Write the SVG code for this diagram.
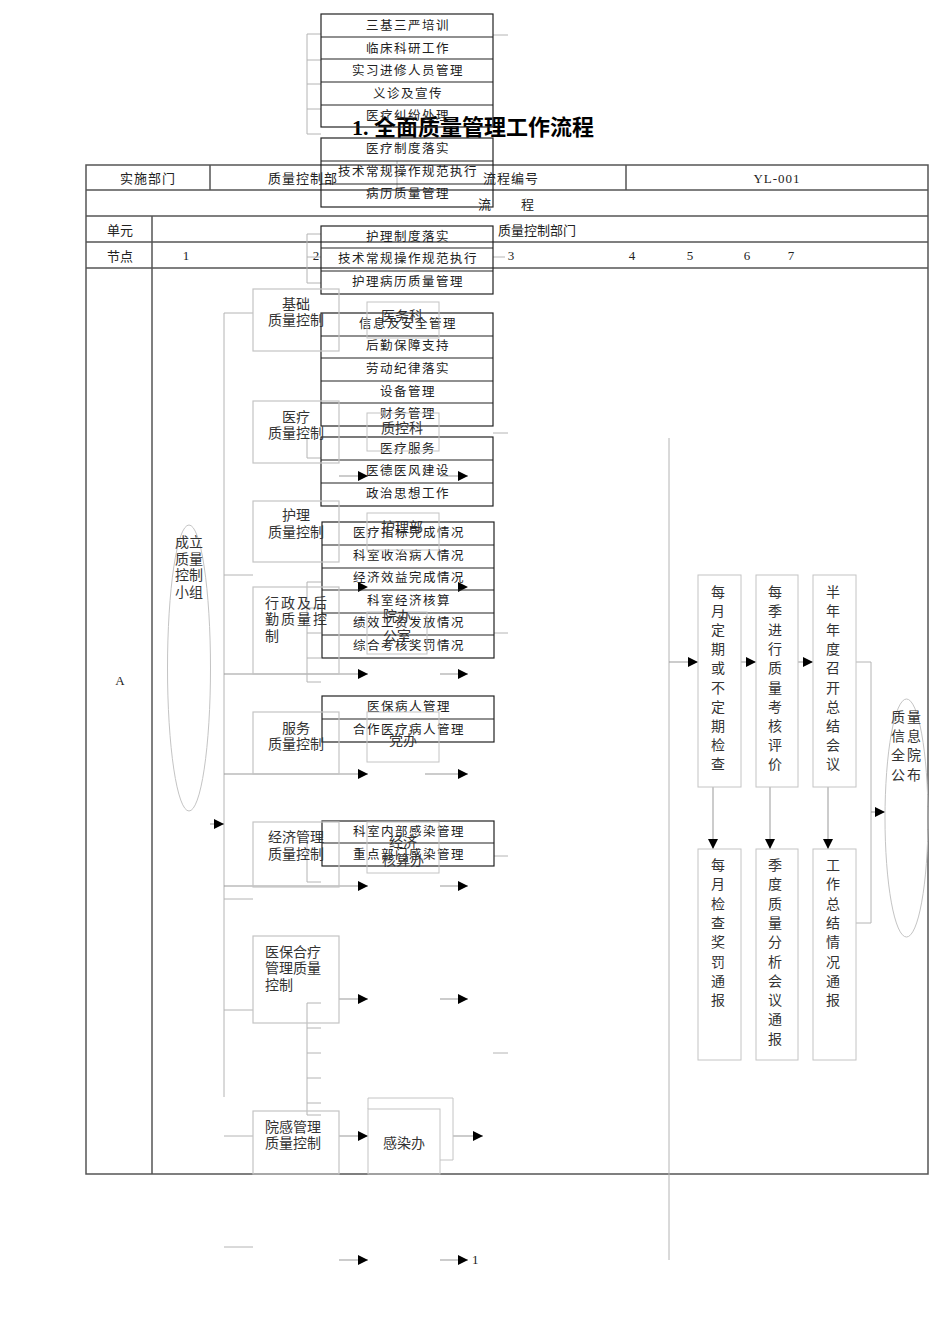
<svg xmlns="http://www.w3.org/2000/svg" width="950" height="1344" viewBox="0 0 950 1344">
<defs>
<style>
.tb{stroke:#555;stroke-width:1.5;fill:none}
.gb{stroke:#222;stroke-width:1.2;fill:none}
.cb{stroke:#c4c4c4;stroke-width:1.2;fill:none}
.db{stroke:#c4c4c4;stroke-width:1;fill:none}
.ln{stroke:#b4b4b4;stroke-width:1;fill:none}
.ar{stroke:#999;stroke-width:1;fill:none;marker-end:url(#ah)}
.t{font-family:"Noto Sans CJK SC","Noto Sans CJK JP",sans-serif;font-size:13px;fill:#222}
.g{font-family:"Noto Sans CJK SC","Noto Sans CJK JP",sans-serif;font-size:12.5px;letter-spacing:1.5px;fill:#222;text-anchor:middle}
.c{font-family:"Noto Sans CJK SC","Noto Sans CJK JP",sans-serif;font-size:14px;fill:#333}
.v{font-family:"Noto Sans CJK SC","Noto Sans CJK JP",sans-serif;font-size:14px;fill:#333;text-anchor:middle}
.n{font-family:"Liberation Serif",serif;font-size:13px;fill:#222}
.m{text-anchor:middle}
</style>
<marker id="ah" viewBox="0 0 10 10" refX="10" refY="5" markerWidth="10" markerHeight="10" markerUnits="userSpaceOnUse" orient="auto"><path d="M0,0 L10,5 L0,10 z" fill="#000"/></marker>
</defs>
<rect width="950" height="1344" fill="#fff"/>

<g id="table">
<rect class="tb" x="86" y="165" width="842" height="1009"/>
<line class="tb" x1="86" y1="190" x2="928" y2="190"/>
<line class="tb" x1="86" y1="216" x2="928" y2="216"/>
<line class="tb" x1="86" y1="242" x2="928" y2="242"/>
<line class="tb" x1="86" y1="268" x2="928" y2="268"/>
<line class="tb" x1="210" y1="165" x2="210" y2="190"/>
<line class="tb" x1="626" y1="165" x2="626" y2="190"/>
<line class="tb" x1="152" y1="216" x2="152" y2="1174"/>
<text class="t m" x="148" y="183" letter-spacing="1">实施部门</text>
<text class="t m" x="303" y="183" letter-spacing="1">质量控制部</text>
<text class="t m" x="511" y="183" letter-spacing="1">流程编号</text>
<text class="n m" x="777" y="183" letter-spacing="1">YL-001</text>
<text class="t" x="478" y="209">流</text>
<text class="t" x="521" y="209">程</text>
<text class="t m" x="120" y="235">单元</text>
<text class="t" x="498" y="235">质量控制部门</text>
<text class="t m" x="120" y="261">节点</text>
<text class="n m" x="186" y="260">1</text>
<text class="n m" x="316" y="260">2</text>
<text class="n m" x="511" y="260">3</text>
<text class="n m" x="632" y="260">4</text>
<text class="n m" x="690" y="260">5</text>
<text class="n m" x="747" y="260">6</text>
<text class="n m" x="791" y="260">7</text>
<text class="n m" x="120" y="685">A</text>
</g>

<g id="connectors">
<line class="ln" x1="224" y1="313" x2="224" y2="1097"/>
<line class="ln" x1="224" y1="313" x2="253" y2="313"/>
<line class="ln" x1="224" y1="575" x2="253" y2="575"/>
<line class="ln" x1="224" y1="899" x2="253" y2="899"/>
<line class="ln" x1="224" y1="1010" x2="253" y2="1010"/>
<line class="ln" x1="224" y1="1136" x2="253" y2="1136"/>
<line class="ln" x1="224" y1="1247" x2="253" y2="1247"/>
<line class="ar" x1="210" y1="824" x2="224" y2="824"/>
<path class="ln" d="M321,34 H307 V134 H321 M307,60 H321 M307,84 H321 M307,109 H321"/>
<line class="ln" x1="493" y1="35" x2="508" y2="35"/>
<line class="ln" x1="397" y1="161" x2="397" y2="190"/>
<path class="ln" d="M321,234 H307 V283 H321 M307,257 H321"/>
<line class="ln" x1="493" y1="257" x2="505" y2="257"/>
<path class="ln" d="M307,437 V458 H321"/>
<line class="ln" x1="493" y1="433" x2="508" y2="433"/>
<path class="ln" d="M321,582 H307 V682 H321 M307,608 H321 M307,633 H321 M307,658 H321"/>
<line class="ln" x1="494" y1="633" x2="508" y2="633"/>
<path class="ln" d="M307,843 V882 H321"/>
<line class="ln" x1="494" y1="856" x2="508" y2="856"/>
<path class="ln" d="M321,1003 H307 V1115 H321 M307,1028 H321 M307,1053 H321 M307,1078 H321 M307,1103 H321"/>
<line class="ln" x1="493" y1="1053" x2="508" y2="1053"/>
<line class="ar" x1="339" y1="476" x2="368" y2="476"/>
<line class="ar" x1="440" y1="476" x2="468" y2="476"/>
<path d="M358,582 L368,587 L358,592 z M458,582 L468,587 L458,592 z" fill="#000"/>
<line class="ar" x1="224" y1="674" x2="368" y2="674"/>
<line class="ar" x1="440" y1="674" x2="468" y2="674"/>
<line class="ar" x1="224" y1="774" x2="368" y2="774"/>
<line class="ar" x1="425" y1="774" x2="468" y2="774"/>
<line class="ar" x1="224" y1="886" x2="368" y2="886"/>
<line class="ar" x1="440" y1="886" x2="468" y2="886"/>
<line class="ar" x1="339" y1="999" x2="368" y2="999"/>
<line class="ar" x1="440" y1="999" x2="468" y2="999"/>
<line class="ar" x1="339" y1="1136" x2="368" y2="1136"/>
<line class="ar" x1="453" y1="1136" x2="483" y2="1136"/>
<line class="ar" x1="339" y1="1260" x2="368" y2="1260"/>
<line class="ar" x1="440" y1="1260" x2="468" y2="1260"/>
<line class="ln" x1="669" y1="438" x2="669" y2="1260"/>
<line class="ar" x1="669" y1="662" x2="698" y2="662"/>
<line class="ar" x1="741" y1="662" x2="756" y2="662"/>
<line class="ar" x1="798" y1="662" x2="813" y2="662"/>
<path class="ln" d="M856,662 H871 V923 H856"/>
<line class="ar" x1="871" y1="812" x2="885" y2="812"/>
<line class="ar" x1="713" y1="787" x2="713" y2="849"/>
<line class="ar" x1="770" y1="787" x2="770" y2="849"/>
<line class="ar" x1="828" y1="787" x2="828" y2="849"/>
</g>

<g id="title"><text x="352" y="135" font-family="'Liberation Serif','Noto Sans CJK SC',serif" font-size="22" font-weight="bold" fill="#000">1. 全面质量管理工作流程</text></g>

<g id="group1">
<rect class="gb" x="321" y="14" width="172" height="113"/>
<path class="gb" d="M321,37 H493 M321,59 H493 M321,82 H493 M321,105 H493"/>
<text class="g" x="408" y="30">三基三严培训</text>
<text class="g" x="408" y="53">临床科研工作</text>
<text class="g" x="408" y="75">实习进修人员管理</text>
<text class="g" x="408" y="98">义诊及宣传</text>
<text class="g" x="408" y="120">医疗纠纷处理</text>
</g>
<g id="group2">
<rect class="gb" x="321" y="138" width="172" height="69"/>
<path class="gb" d="M321,161 H493 M321,184 H493"/>
<text class="g" x="408" y="153">医疗制度落实</text>
<text class="g" x="408" y="176">技术常规操作规范执行</text>
<text class="g" x="408" y="198">病历质量管理</text>
</g>
<g id="group3">
<rect class="gb" x="321" y="226" width="172" height="68"/>
<path class="gb" d="M321,248 H493 M321,271 H493"/>
<text class="g" x="408" y="241">护理制度落实</text>
<text class="g" x="408" y="263">技术常规操作规范执行</text>
<text class="g" x="408" y="286">护理病历质量管理</text>
</g>
<g id="group4">
<rect class="gb" x="321" y="313" width="172" height="113"/>
<path class="gb" d="M321,336 H493 M321,358 H493 M321,381 H493 M321,403 H493"/>
<text class="g" x="408" y="328">信息及安全管理</text>
<text class="g" x="408" y="350">后勤保障支持</text>
<text class="g" x="408" y="373">劳动纪律落实</text>
<text class="g" x="408" y="396">设备管理</text>
<text class="g" x="408" y="418">财务管理</text>
</g>
<g id="group5">
<rect class="gb" x="321" y="437" width="172" height="69"/>
<path class="gb" d="M321,460 H493 M321,483 H493"/>
<text class="g" x="408" y="453">医疗服务</text>
<text class="g" x="408" y="475">医德医风建设</text>
<text class="g" x="408" y="498">政治思想工作</text>
</g>
<g id="group6">
<rect class="gb" x="322" y="522" width="172" height="136"/>
<path class="gb" d="M322,545 H494 M322,568 H494 M322,590 H494 M322,613 H494 M322,635 H494"/>
<text class="g" x="409" y="537">医疗指标完成情况</text>
<text class="g" x="409" y="560">科室收治病人情况</text>
<text class="g" x="409" y="582">经济效益完成情况</text>
<text class="g" x="409" y="605">科室经济核算</text>
<text class="g" x="409" y="627">绩效工资发放情况</text>
<text class="g" x="409" y="650">综合考核奖罚情况</text>
</g>
<g id="group7">
<rect class="gb" x="322" y="696" width="172" height="46"/>
<path class="gb" d="M322,719 H494"/>
<text class="g" x="409" y="711">医保病人管理</text>
<text class="g" x="409" y="734">合作医疗病人管理</text>
</g>
<g id="group8">
<rect class="gb" x="322" y="821" width="172" height="45"/>
<path class="gb" d="M322,843 H494"/>
<text class="g" x="409" y="836">科室内部感染管理</text>
<text class="g" x="409" y="859">重点部门感染管理</text>
</g>

<g id="ctrl-basic"><rect class="cb" x="253" y="289" width="86" height="62"/><text class="c m" x="296" y="309">基础</text><text class="c m" x="296" y="325">质量控制</text></g>
<g id="ctrl-medical"><rect class="cb" x="253" y="401" width="86" height="62"/><text class="c m" x="296" y="422">医疗</text><text class="c m" x="296" y="438">质量控制</text></g>
<g id="ctrl-nursing"><rect class="cb" x="253" y="501" width="86" height="61"/><text class="c m" x="296" y="520">护理</text><text class="c m" x="296" y="537">质量控制</text></g>
<g id="ctrl-admin"><rect class="cb" x="253" y="587" width="86" height="87"/><text class="c" x="265" y="608" letter-spacing="2">行政及后</text><text class="c" x="265" y="624" letter-spacing="2">勤质量控</text><text class="c" x="265" y="641">制</text></g>
<g id="ctrl-service"><rect class="cb" x="253" y="712" width="86" height="62"/><text class="c m" x="296" y="733">服务</text><text class="c m" x="296" y="749">质量控制</text></g>
<g id="ctrl-economy"><rect class="cb" x="253" y="822" width="86" height="65"/><text class="c m" x="296" y="842">经济管理</text><text class="c m" x="296" y="859">质量控制</text></g>
<g id="ctrl-insurance"><rect class="cb" x="253" y="936" width="86" height="87"/><text class="c" x="265" y="957">医保合疗</text><text class="c" x="265" y="973">管理质量</text><text class="c" x="265" y="990">控制</text></g>
<g id="ctrl-infection"><rect class="cb" x="253" y="1111" width="86" height="63"/><text class="c" x="265" y="1132">院感管理</text><text class="c" x="265" y="1148">质量控制</text></g>

<g id="dept-yiwu"><rect class="db" x="367" y="302" width="72" height="36"/><text class="c m" x="402" y="321">医务科</text></g>
<g id="dept-zhikong"><rect class="db" x="367" y="413" width="72" height="38"/><text class="c m" x="402" y="433">质控科</text></g>
<g id="dept-huli"><rect class="db" x="367" y="513" width="72" height="37"/><text class="c m" x="402" y="532">护理部</text></g>
<g id="dept-yuanban"><rect class="db" x="367" y="612" width="60" height="42"/><text class="c m" x="397" y="621">院办</text><text class="c m" x="397" y="641">公室</text></g>
<g id="dept-dangban"><rect class="db" x="367" y="712" width="72" height="50"/><text class="c m" x="403" y="745">党办</text></g>
<g id="dept-jingji"><rect class="db" x="367" y="822" width="72" height="51"/><text class="c m" x="403" y="847">经济</text><text class="c m" x="403" y="865">核算办</text></g>
<g id="dept-ganran"><rect class="db" x="368" y="1109" width="72" height="65"/><path class="db" d="M368,1109 V1098 H453 V1160 H440"/><text class="c m" x="404" y="1148">感染办</text></g>

<g id="group-ellipse"><ellipse cx="189" cy="668" rx="21.5" ry="143" class="db"/>
<text class="c m" x="189" y="547">成立</text><text class="c m" x="189" y="564">质量</text><text class="c m" x="189" y="580">控制</text><text class="c m" x="189" y="597">小组</text></g>

<g id="box-monthly"><rect class="db" x="698" y="575" width="43" height="212"/>
<text class="v"><tspan x="718" y="597">每</tspan><tspan x="718" dy="19.1">月</tspan><tspan x="718" dy="19.1">定</tspan><tspan x="718" dy="19.1">期</tspan><tspan x="718" dy="19.1">或</tspan><tspan x="718" dy="19.1">不</tspan><tspan x="718" dy="19.1">定</tspan><tspan x="718" dy="19.1">期</tspan><tspan x="718" dy="19.1">检</tspan><tspan x="718" dy="19.1">查</tspan></text></g>
<g id="box-quarterly"><rect class="db" x="756" y="575" width="42" height="212"/>
<text class="v"><tspan x="775" y="597">每</tspan><tspan x="775" dy="19.1">季</tspan><tspan x="775" dy="19.1">进</tspan><tspan x="775" dy="19.1">行</tspan><tspan x="775" dy="19.1">质</tspan><tspan x="775" dy="19.1">量</tspan><tspan x="775" dy="19.1">考</tspan><tspan x="775" dy="19.1">核</tspan><tspan x="775" dy="19.1">评</tspan><tspan x="775" dy="19.1">价</tspan></text></g>
<g id="box-annual"><rect class="db" x="813" y="575" width="43" height="212"/>
<text class="v"><tspan x="833" y="597">半</tspan><tspan x="833" dy="19.1">年</tspan><tspan x="833" dy="19.1">年</tspan><tspan x="833" dy="19.1">度</tspan><tspan x="833" dy="19.1">召</tspan><tspan x="833" dy="19.1">开</tspan><tspan x="833" dy="19.1">总</tspan><tspan x="833" dy="19.1">结</tspan><tspan x="833" dy="19.1">会</tspan><tspan x="833" dy="19.1">议</tspan></text></g>
<g id="box-monthly-report"><rect class="db" x="698" y="849" width="43" height="211"/>
<text class="v"><tspan x="718" y="870">每</tspan><tspan x="718" dy="19.3">月</tspan><tspan x="718" dy="19.3">检</tspan><tspan x="718" dy="19.3">查</tspan><tspan x="718" dy="19.3">奖</tspan><tspan x="718" dy="19.3">罚</tspan><tspan x="718" dy="19.3">通</tspan><tspan x="718" dy="19.3">报</tspan></text></g>
<g id="box-quarterly-report"><rect class="db" x="756" y="849" width="42" height="211"/>
<text class="v"><tspan x="775" y="870">季</tspan><tspan x="775" dy="19.3">度</tspan><tspan x="775" dy="19.3">质</tspan><tspan x="775" dy="19.3">量</tspan><tspan x="775" dy="19.3">分</tspan><tspan x="775" dy="19.3">析</tspan><tspan x="775" dy="19.3">会</tspan><tspan x="775" dy="19.3">议</tspan><tspan x="775" dy="19.3">通</tspan><tspan x="775" dy="19.3">报</tspan></text></g>
<g id="box-annual-report"><rect class="db" x="813" y="849" width="43" height="211"/>
<text class="v"><tspan x="833" y="870">工</tspan><tspan x="833" dy="19.3">作</tspan><tspan x="833" dy="19.3">总</tspan><tspan x="833" dy="19.3">结</tspan><tspan x="833" dy="19.3">情</tspan><tspan x="833" dy="19.3">况</tspan><tspan x="833" dy="19.3">通</tspan><tspan x="833" dy="19.3">报</tspan></text></g>
<g id="publish"><ellipse class="db" cx="906.5" cy="818" rx="21.5" ry="119"/>
<text class="v" letter-spacing="2"><tspan x="907" y="722">质量</tspan><tspan x="907" dy="19.2">信息</tspan><tspan x="907" dy="19.2">全院</tspan><tspan x="907" dy="19.2">公布</tspan></text></g>
<g id="end-label"><text class="n" x="472" y="1264">1</text></g>
</svg>
